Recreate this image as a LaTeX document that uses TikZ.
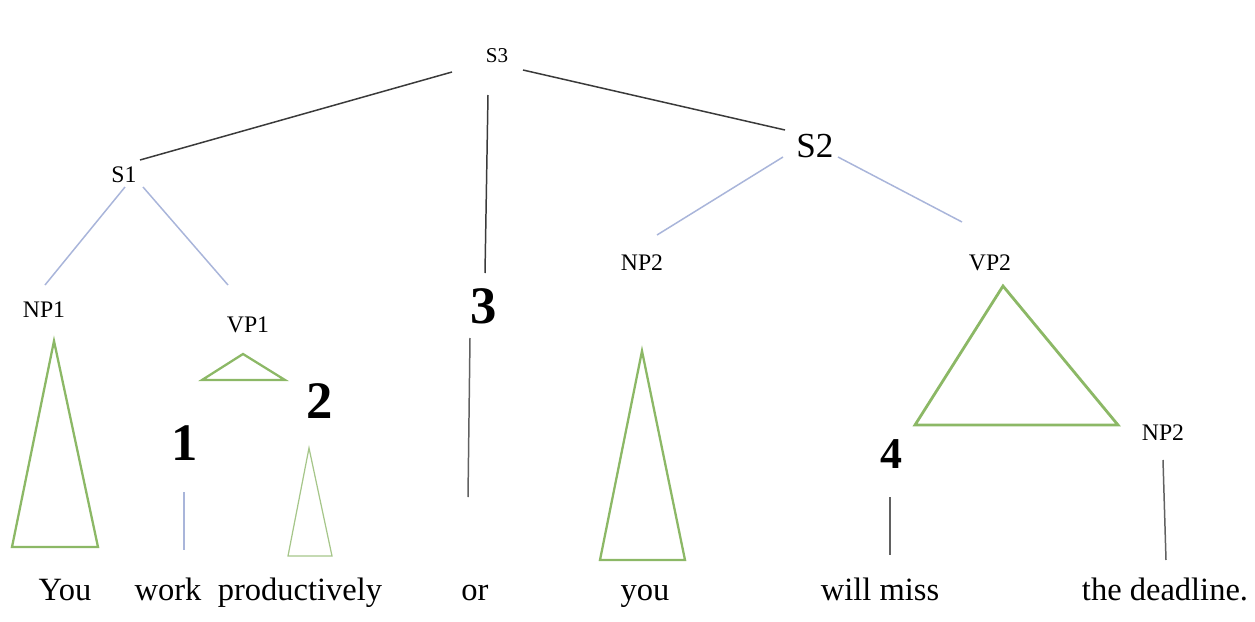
\documentclass[tikz,border=0pt]{standalone}
\usepackage{fontspec}
\setmainfont{Liberation Serif}
\definecolor{dk}{HTML}{3A3A3A}
\definecolor{bl}{HTML}{A9B5DA}
\definecolor{gr}{HTML}{8CB866}
\definecolor{lgr}{HTML}{A6C68A}
\tikzset{
  lbl/.style={anchor=base,inner sep=0pt,font=\fontsize{13.5}{14}\selectfont},
  word/.style={anchor=base,inner sep=0pt,font=\fontsize{18.5}{20}\selectfont},
  num/.style={anchor=base,inner sep=0pt,font=\fontsize{30}{32}\selectfont\bfseries},
  dkline/.style={draw=dk,line width=0.85pt},
  blline/.style={draw=bl,line width=0.85pt},
  tri/.style={draw=gr,line width=1.3pt,line join=miter},
}
\begin{document}
\begin{tikzpicture}[x=0.02cm,y=-0.02cm]
\path[use as bounding box] (0,0) rectangle (1255,622);
% labels
\node[lbl,font=\fontsize{12}{13}\selectfont] (S3) at (497,62) {S3};
\node[lbl] (S1) at (124,182) {S1};
\node[lbl,font=\fontsize{20}{22}\selectfont] (S2) at (815,157) {S2};
\node[lbl] (NP1) at (44,317) {NP1};
\node[lbl] (VP1) at (248,332) {VP1};
\node[lbl] (NP2a) at (642,270) {NP2};
\node[lbl] (VP2) at (990,270) {VP2};
\node[lbl] (NP2b) at (1163,440) {NP2};
% numbers
\node[num] (n1) at (185,460) {1};
\node[num] (n2) at (320,418) {2};
\node[num] (n3) at (484,323) {3};
\node[num,font=\fontsize{25}{27}\selectfont\bfseries] (n4) at (891,468) {4};
% words
\node[word] (w1) at (65,600) {You};
\node[word] (w2) at (168,600) {work};
\node[word] (w3) at (300,600) {productively};
\node[word] (w4) at (475,600) {or};
\node[word] (w5) at (645,600) {you};
\node[word] (w6) at (880,600) {will miss};
\node[word] (w7) at (1165,600) {the deadline.};
% connectors
\draw[dkline] ([shift={(-45,10)}]S3.base) -- ([shift={(16,-22)}]S1.base);
\draw[dkline] ([shift={(-9,33)}]S3.base) -- ([shift={(1,-50)}]n3.base);
\draw[dkline] ([shift={(26,8)}]S3.base) -- ([shift={(-30,-27)}]S2.base);
\draw[blline] ([shift={(1,5)}]S1.base) -- ([shift={(1,-32)}]NP1.base);
\draw[blline] ([shift={(19,5)}]S1.base) -- ([shift={(-20,-47)}]VP1.base);
\draw[blline] ([shift={(-32,0)}]S2.base) -- ([shift={(15,-35)}]NP2a.base);
\draw[blline] ([shift={(23,0)}]S2.base) -- ([shift={(-28,-48)}]VP2.base);
\draw[blline] ([shift={(-1,32)}]n1.base) -- ([shift={(16,-50)}]w2.base);
\draw[dkline,draw=dk!80] ([shift={(-14,15)}]n3.base) -- ([shift={(-7,-103)}]w4.base);
\draw[dkline,draw=dk!80] ([shift={(-1,29)}]n4.base) -- ([shift={(10,-45)}]w6.base);
\draw[dkline,draw=dk!80] ([shift={(0,20)}]NP2b.base) -- ([shift={(1,-40)}]w7.base);
% triangles
\draw[tri] (54,341) -- (98,547) -- (12,547) -- cycle;
\draw[tri] (243,354) -- (285,380) -- (202,380) -- cycle;
\draw[tri,draw=lgr,line width=0.7pt] (309,448) -- (332,556) -- (288,556) -- cycle;
\draw[tri] (642,351) -- (685,560) -- (600,560) -- cycle;
\draw[tri,line width=1.6pt] (1003,286) -- (1118,425) -- (915,425) -- cycle;
\end{tikzpicture}
\end{document}
